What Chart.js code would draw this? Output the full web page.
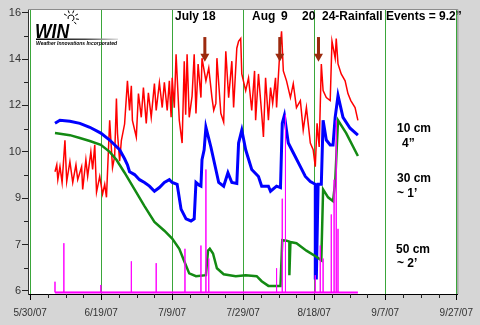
<!DOCTYPE html>
<html>
<head>
<meta charset="utf-8">
<script src="https://cdn.jsdelivr.net/npm/chart.js@4.4.0/dist/chart.umd.min.js"></script>
<style>
  html, body { margin: 0; padding: 0; background: #d6d6d6; }
  canvas { display: block; }
</style>
</head>
<body>
<canvas id="myChart" width="480" height="325"></canvas>
<script>
// x values are days counted from 5/30/07
var xTickDays = [0, 20, 40, 60, 80, 100, 120];
var xTickLabels = ["5/30/07", "6/19/07", "7/9/07", "7/29/07", "8/18/07", "9/7/07", "9/27/07"];
// y tick labels as printed on the original (evenly spaced, uneven numbers)
var yTickLabels = [6, 7, 9, 10, 12, 14, 16];

// 10 cm (4")
var red10cm = [[7.0,9.57],[7.5,9.72],[7.8,9.4],[8.4,9.68],[9.0,9.34],[9.8,10.5],[10.3,9.36],[11.2,9.79],
  [12.0,9.34],[12.9,9.72],[13.4,9.4],[14.5,9.68],[14.8,9.19],[15.7,9.83],[16.2,9.47],[17.1,10.0],
  [17.6,9.62],[18.2,10.3],[18.7,9.13],[19.6,9.47],[20.4,9.09],[21.0,9.3],[21.5,9.02],[22.4,11.36],
  [23.2,9.66],[23.8,9.9],[24.3,12.3],[24.6,10.8],[25.2,9.8],[25.7,10.5],[26.6,11.2],[27.4,13.06],
  [28.0,11.79],[28.5,12.85],[28.8,11.36],[29.9,10.64],[30.5,12.51],[31.3,11.49],[31.9,12.77],[32.7,11.23],
  [33.3,12.55],[34.1,11.49],[35.0,12.94],[35.5,11.79],[36.4,12.98],[37.2,11.91],[37.8,13.0],[38.6,11.79],
  [39.2,13.06],[39.7,11.49],[40.0,13.19],[40.6,11.9],[41.1,14.21],[42.0,11.36],[42.8,10.38],[43.4,13.91],
  [43.8,11.6],[44.2,14.21],[44.8,11.49],[45.6,12.4],[46.2,14.21],[46.7,11.66],[47.3,13.79],[48.1,12.34],
  [48.4,14.04],[49.5,13.06],[50.3,13.62],[51.2,12.34],[51.7,11.79],[52.3,12.09],[52.6,14.04],[53.7,11.66],
  [54.5,11.28],[55.1,14.34],[55.9,12.34],[56.8,13.91],[57.3,11.91],[58.2,14.47],[58.7,14.77],[59.3,14.89],
  [59.6,13.36],[60.7,12.64],[61.5,13.19],[62.4,11.79],[63.2,13.49],[63.5,11.36],[64.3,13.36],[65.2,11.66],
  [65.7,10.64],[66.3,13.19],[67.1,11.36],[67.7,12.77],[68.3,12.09],[69.1,13.19],[69.4,11.91],[70.2,14.04],
  [70.8,15.2],[71.3,13.49],[72.2,13.06],[73.3,12.34],[74.1,12.94],[75.0,11.91],[76.1,12.21],[76.9,10.94],
  [77.8,11.91],[78.3,11.23],[78.9,10.38],[79.7,10.09],[80.3,9.68],[80.8,11.23],[81.4,10.21],[82.0,13.79],
  [82.5,12.64],[83.4,12.34],[84.5,12.21],[85.0,14.77],[85.9,14.04],[86.2,14.89],[86.7,13.79],[87.6,13.36],
  [88.7,13.06],[89.5,12.51],[90.3,12.21],[91.5,11.91],[92.3,11.36]];

// 30 cm (~1')
var blue30cm = [[7.0,11.23],[8.4,11.36],[11.2,11.32],[14.0,11.23],[16.8,11.06],[19.9,10.81],[22.4,10.51],
  [25.2,10.09],[26.6,9.85],[27.4,9.72],[28.0,9.57],[29.4,9.51],[30.8,9.4],[32.2,9.34],[33.6,9.26],
  [35.0,9.15],[36.4,9.23],[37.8,9.34],[39.2,9.4],[40.0,9.34],[41.4,9.3],[42.5,8.53],[43.9,8.11],
  [45.3,8.02],[46.2,8.11],[46.7,9.34],[47.6,9.28],[48.1,9.26],[48.4,9.83],[49.0,10.09],[49.5,11.06],
  [50.9,10.21],[52.3,9.62],[53.1,9.34],[54.5,9.26],[55.7,9.55],[56.8,9.34],[58.2,9.32],[58.7,10.38],
  [59.6,10.94],[60.7,10.09],[62.4,9.62],[64.3,9.47],[65.2,9.26],[67.1,9.26],[67.7,9.15],[69.4,9.26],
  [70.5,9.23],[71.0,11.23],[71.6,11.57],[72.7,10.38],[74.1,9.98],[76.1,9.68],[77.5,9.47],[78.9,9.36],
  [80.3,9.3],[80.3,6.28],[80.6,6.28],[81.1,9.3],[82.0,9.3],[82.5,11.36],[83.4,10.51],[84.5,10.3],
  [85.3,10.3],[85.9,11.49],[86.7,12.43],[88.1,11.49],[90.1,11.02],[92.3,10.72]];

// 50 cm (~2')
var green50cm = [[7.0,10.81],[11.2,10.72],[14.0,10.6],[16.8,10.47],[19.9,10.3],[22.4,10.0],[24.3,9.83],
  [26.6,9.55],[29.4,9.19],[32.2,8.66],[35.0,7.98],[37.8,7.6],[40.0,7.26],[42.0,6.91],[43.4,6.64],
  [44.8,6.38],[46.7,6.32],[49.5,6.34],[50.1,6.87],[50.6,6.91],[51.5,6.81],[52.6,6.49],[54.5,6.36],
  [57.9,6.32],[60.7,6.34],[63.8,6.32],[65.2,6.21],[67.1,6.11],[70.5,6.11],[71.0,7.19],[72.2,7.17],
  [73.0,7.13],[73.0,6.34],[73.3,7.11],[75.0,7.06],[77.8,6.87],[80.6,6.74],[82.0,6.66],[82.5,9.19],
  [83.9,9.02],[85.3,8.87],[85.9,9.34],[86.7,11.36],[89.0,10.81],[92.3,9.91]];

// rainfall spikes (magenta)
var rainDays  = [7.0, 9.5, 19.9, 28.5, 35.5, 43.6, 48.1, 49.5, 50.3, 69.4, 71.0, 71.9, 80.3, 81.7, 82.5, 84.8, 85.6, 86.2, 86.7];
var rainPeaks = [6.2, 7.06, 6.13, 6.64, 6.6, 6.91, 6.98, 9.62, 6.7, 6.49, 8.98, 11.6, 6.34, 6.98, 6.7, 8.3, 9.4, 11.36, 7.68];
var rainBase = 5.97;
var rainStart = 7.0, rainEnd = 92.3;

// rainfall event arrows
var arrowDays = [49.2, 70.3, 81.2];
var arrowTop = 14.95, arrowTip = 13.88;

// printed tick value -> even axis position
function toAxis(v) {
  var t = yTickLabels, n = t.length - 1;
  if (v <= t[0]) return (v - t[0]) / (t[1] - t[0]);
  for (var i = 0; i < n; i++) {
    if (v <= t[i + 1]) return i + (v - t[i]) / (t[i + 1] - t[i]);
  }
  return n + (v - t[n]) / (t[n] - t[n - 1]);
}
function pts(arr) {
  return arr.map(function (p) { return { x: p[0], y: toAxis(p[1]) }; });
}

var rainPts = [];
rainDays.forEach(function (d, i) {
  rainPts.push({ x: d, y: toAxis(rainBase) }, { x: d, y: toAxis(rainPeaks[i]) }, { x: d, y: toAxis(rainBase) });
});
var rainLine = [{ x: rainStart, y: toAxis(rainBase) }, { x: rainEnd, y: toAxis(rainBase) }];

var FONT = '"Liberation Sans", Arial, sans-serif';

// text placed on the plot, pixel positions
var notes = [
  { t: "July 18", x: 175, y: 20 },
  { t: "Aug", x: 252, y: 20 },
  { t: "9", x: 281, y: 20 },
  { t: "20", x: 302, y: 20 },
  { t: "24-Rainfall Events = 9.2\u201d", x: 322, y: 20 },
  { t: "10 cm", x: 397, y: 132 },
  { t: "4\u201d", x: 402, y: 147 },
  { t: "30 cm", x: 397, y: 182 },
  { t: "~ 1\u2019", x: 397, y: 197 },
  { t: "50 cm", x: 396, y: 253 },
  { t: "~ 2\u2019", x: 397, y: 267 }
];

var backdrop = {
  id: 'backdrop',
  beforeDraw: function (chart) {
    var c = chart.ctx, a = chart.chartArea;
    c.save();
    c.fillStyle = '#d6d6d6';
    c.fillRect(0, 0, chart.width, chart.height);
    c.fillStyle = '#ffffff';
    c.fillRect(a.left, a.top, a.right - a.left, a.bottom - a.top);
    c.restore();
  },
  afterDraw: function (chart) {
    var c = chart.ctx, a = chart.chartArea;
    var xs = chart.scales.x, ys = chart.scales.y;
    c.save();
    // top and right frame
    c.strokeStyle = '#8c8c8c';
    c.lineWidth = 1;
    c.beginPath();
    c.moveTo(a.left, a.top + 0.5); c.lineTo(a.right + 0.5, a.top + 0.5); c.lineTo(a.right + 0.5, a.bottom);
    c.stroke();
    // minor ticks
    c.strokeStyle = '#222';
    c.beginPath();
    for (var d = 5; d < 120; d += 5) {
      if (d % 20 === 0) continue;
      var px = Math.round(xs.getPixelForValue(d)) + 0.5;
      c.moveTo(px, a.bottom); c.lineTo(px, a.bottom + 4);
    }
    for (var k = 0.5; k < 6; k += 1) {
      var py = Math.round(ys.getPixelForValue(k)) + 0.5;
      c.moveTo(a.left - 4, py); c.lineTo(a.left, py);
    }
    c.stroke();
    c.restore();
  },
  afterDatasetsDraw: function (chart) {
    var c = chart.ctx;
    var xs = chart.scales.x, ys = chart.scales.y;
    c.save();
    // arrows
    c.fillStyle = '#9c2a0e';
    arrowDays.forEach(function (d) {
      var x = xs.getPixelForValue(d);
      var y0 = ys.getPixelForValue(toAxis(arrowTop));
      var y1 = ys.getPixelForValue(toAxis(arrowTip));
      c.fillRect(x - 1.5, y0, 3, y1 - y0 - 7);
      c.beginPath();
      c.moveTo(x - 4.5, y1 - 8); c.lineTo(x + 4.5, y1 - 8); c.lineTo(x, y1);
      c.closePath(); c.fill();
    });
    // texts
    c.fillStyle = '#000';
    c.font = 'bold 12px ' + FONT;
    c.textBaseline = 'alphabetic';
    notes.forEach(function (n) { c.fillText(n.t, n.x, n.y); });

    // WIN logo
    c.save();
    c.translate(35, 37.5);
    c.scale(0.88, 1);
    c.font = 'italic 900 20px ' + FONT;
    c.fillText('WIN', 0, 0);
    c.restore();
    var g = c.createLinearGradient(36, 0, 118, 0);
    g.addColorStop(0, '#000'); g.addColorStop(0.6, '#444'); g.addColorStop(1, '#ddd');
    c.fillStyle = g;
    c.fillRect(36, 38.5, 82, 1.5);
    c.fillStyle = '#000';
    c.font = 'italic bold 5px ' + FONT;
    c.fillText('Weather Innovations Incorporated', 36, 45, 82);
    // little sun
    c.strokeStyle = '#000';
    c.lineWidth = 1;
    c.beginPath();
    c.arc(71, 18, 3, Math.PI * 0.9, Math.PI * 2.4);
    c.stroke();
    c.beginPath();
    [-150, -110, -70, -30, 10, 50].forEach(function (deg) {
      var r = deg * Math.PI / 180;
      c.moveTo(71 + Math.cos(r) * 5, 18 + Math.sin(r) * 5);
      c.lineTo(71 + Math.cos(r) * 8, 18 + Math.sin(r) * 8);
    });
    c.stroke();
    c.restore();
  }
};

var ctx = document.getElementById("myChart").getContext("2d");
var myChart = new Chart(ctx, {
  type: 'line',
  data: {
    datasets: [
      { label: 'rain', data: rainPts, borderColor: '#ff00ff', borderWidth: 1 },
      { label: 'rain base', data: rainLine, borderColor: '#ff00ff', borderWidth: 2 },
      { label: '50 cm', data: pts(green50cm), borderColor: '#138a13', borderWidth: 2.5 },
      { label: '30 cm', data: pts(blue30cm), borderColor: '#0000ff', borderWidth: 3 },
      { label: '10 cm', data: pts(red10cm), borderColor: '#ff0000', borderWidth: 1.5 }
    ]
  },
  options: {
    responsive: false,
    devicePixelRatio: 1,
    animation: false,
    layout: { padding: { left: 0, right: 20, top: 9, bottom: 0 } },
    elements: { point: { radius: 0 }, line: { tension: 0 } },
    plugins: { legend: { display: false }, tooltip: { enabled: false } },
    scales: {
      x: {
        type: 'linear',
        min: -0.6,
        max: 120.3,
        afterFit: function (s) { s.height = 31; },
        afterBuildTicks: function (s) { s.ticks = xTickDays.map(function (v) { return { value: v }; }); },
        grid: { color: '#3aa63a', lineWidth: 1, tickColor: '#000', tickLength: 6 },
        border: { color: '#000', width: 1 },
        ticks: {
          autoSkip: false, maxRotation: 0, padding: 7,
          color: '#333',
          font: { family: '"Liberation Sans Narrow", "Liberation Sans", Arial, sans-serif', size: 10 },
          callback: function (v) { var i = xTickDays.indexOf(v); return i >= 0 ? xTickLabels[i] : ''; }
        }
      },
      y: {
        min: -0.065,
        max: 6.08,
        afterFit: function (s) { s.width = 28; },
        afterBuildTicks: function (s) { s.ticks = yTickLabels.map(function (v, i) { return { value: i }; }); },
        grid: { drawOnChartArea: false, tickColor: '#222', tickLength: 6 },
        border: { color: '#333', width: 1 },
        ticks: {
          padding: 1,
          color: '#333',
          font: { family: FONT, size: 11 },
          callback: function (v) { return yTickLabels[v] !== undefined ? String(yTickLabels[v]) : ''; }
        }
      }
    }
  },
  plugins: [backdrop]
});
</script>
</body>
</html>
